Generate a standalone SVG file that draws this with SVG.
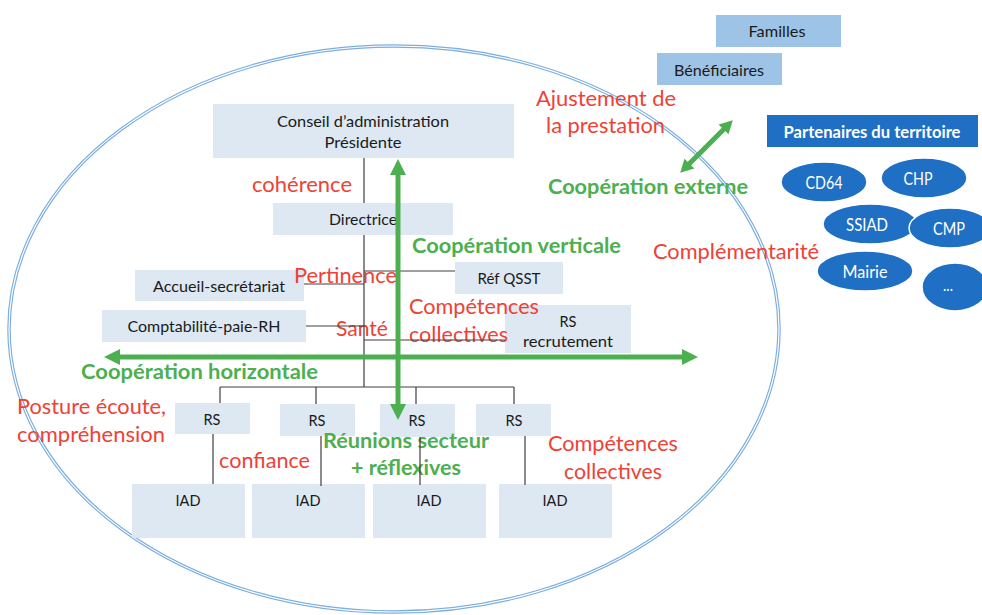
<svg xmlns="http://www.w3.org/2000/svg" width="982" height="615" viewBox="0 0 982 615">
<defs>
<style>
.bx{fill:#dde8f3}
.t{font-family:Lato,"Liberation Sans",sans-serif;font-size:16px;fill:#1a1a1a;text-anchor:middle}
.r{font-family:Lato,"Liberation Sans",sans-serif;font-size:22px;fill:#ef4136}
.g{font-family:Lato,"Liberation Sans",sans-serif;font-size:21px;font-weight:bold;fill:#4caf50}
.w{font-family:Lato,"Liberation Sans",sans-serif;font-size:17px;fill:#ffffff;text-anchor:middle}
.pe{fill:#1f6fc4;stroke:#ffffff;stroke-width:1.5}
.ln{stroke:#404040;stroke-width:1.2;fill:none}
.ga{stroke:#4caf50;stroke-width:5;fill:none}
</style>
<marker id="ah" markerUnits="userSpaceOnUse" markerWidth="20" markerHeight="20" refX="2" refY="8" orient="auto-start-reverse" overflow="visible">
<path d="M0,0 L16,8 L0,16 z" fill="#4caf50"/>
</marker>
<marker id="ah2" markerUnits="userSpaceOnUse" markerWidth="16" markerHeight="16" refX="2" refY="7" orient="auto-start-reverse" overflow="visible">
<path d="M0,0 L13,7 L0,14 z" fill="#4caf50"/>
</marker>
</defs>
<rect width="982" height="615" fill="#ffffff"/>

<g id="enclosure">
<ellipse cx="394" cy="329" rx="385" ry="283" fill="none" stroke="#7aaee0" stroke-width="3.5"/>
<ellipse cx="394" cy="329" rx="385" ry="283" fill="none" stroke="#ffffff" stroke-width="1.2"/>
</g>

<g id="conseil"><rect class="bx" x="213" y="104" width="301" height="54"/>
<text class="t" x="363" y="127" textLength="172" lengthAdjust="spacingAndGlyphs">Conseil d’administration</text>
<text class="t" x="363" y="148" textLength="77" lengthAdjust="spacingAndGlyphs">Présidente</text></g>
<g id="directrice"><rect class="bx" x="273" y="203" width="180" height="32"/>
<text class="t" x="363" y="225" textLength="68" lengthAdjust="spacingAndGlyphs">Directrice</text></g>
<g id="accueil"><rect class="bx" x="135" y="270" width="169" height="31"/>
<text class="t" x="219" y="292" textLength="132" lengthAdjust="spacingAndGlyphs">Accueil-secrétariat</text></g>
<g id="compta"><rect class="bx" x="102" y="310" width="204" height="32"/>
<text class="t" x="204" y="332" textLength="153" lengthAdjust="spacingAndGlyphs">Comptabilité-paie-RH</text></g>
<g id="refqsst"><rect class="bx" x="455" y="262" width="108" height="32"/>
<text class="t" x="509" y="284" textLength="63" lengthAdjust="spacingAndGlyphs">Réf QSST</text></g>
<g id="rsrecrut"><rect class="bx" x="505" y="305" width="126" height="48"/>
<text class="t" x="568" y="327" textLength="17" lengthAdjust="spacingAndGlyphs">RS</text>
<text class="t" x="568" y="347" textLength="90" lengthAdjust="spacingAndGlyphs">recrutement</text></g>

<g id="rs1"><rect class="bx" x="175" y="403" width="75" height="31"/><text class="t" x="212" y="425" textLength="17" lengthAdjust="spacingAndGlyphs">RS</text></g>
<g id="rs2"><rect class="bx" x="280" y="404" width="75" height="32"/><text class="t" x="317" y="426" textLength="17" lengthAdjust="spacingAndGlyphs">RS</text></g>
<g id="rs3"><rect class="bx" x="380" y="404" width="75" height="33"/><text class="t" x="417" y="426" textLength="17" lengthAdjust="spacingAndGlyphs">RS</text></g>
<g id="rs4"><rect class="bx" x="476" y="404" width="75" height="32"/><text class="t" x="514" y="426" textLength="17" lengthAdjust="spacingAndGlyphs">RS</text></g>

<g id="iad1"><rect class="bx" x="132" y="484" width="113" height="54"/><text class="t" x="188" y="506" textLength="25" lengthAdjust="spacingAndGlyphs">IAD</text></g>
<g id="iad2"><rect class="bx" x="252" y="484" width="113" height="54"/><text class="t" x="308" y="506" textLength="25" lengthAdjust="spacingAndGlyphs">IAD</text></g>
<g id="iad3"><rect class="bx" x="373" y="484" width="113" height="54"/><text class="t" x="429" y="506" textLength="25" lengthAdjust="spacingAndGlyphs">IAD</text></g>
<g id="iad4"><rect class="bx" x="499" y="484" width="113" height="54"/><text class="t" x="555" y="506" textLength="25" lengthAdjust="spacingAndGlyphs">IAD</text></g>

<g id="familles"><rect x="716" y="15" width="125" height="32" fill="#9dc3e6"/>
<text class="t" x="777" y="37" textLength="57" lengthAdjust="spacingAndGlyphs">Familles</text></g>
<g id="beneficiaires"><rect x="657" y="53" width="125" height="32" fill="#9dc3e6"/>
<text class="t" x="719" y="76" textLength="90" lengthAdjust="spacingAndGlyphs">Bénéficiaires</text></g>
<g id="partenaires"><rect x="767" y="115" width="211" height="32" fill="#1f6fc4"/>
<text class="w" x="872" y="138" font-weight="bold" font-size="16" textLength="177" lengthAdjust="spacingAndGlyphs">Partenaires du territoire</text></g>

<g id="cd64"><ellipse class="pe" cx="824" cy="182" rx="43" ry="20"/><text class="w" x="824" y="189" textLength="37" lengthAdjust="spacingAndGlyphs">CD64</text></g>
<g id="chp"><ellipse class="pe" cx="924" cy="178" rx="43" ry="20"/><text class="w" x="918" y="185" textLength="29" lengthAdjust="spacingAndGlyphs">CHP</text></g>
<g id="ssiad"><ellipse class="pe" cx="870" cy="224" rx="47" ry="20"/><text class="w" x="867" y="231" textLength="42" lengthAdjust="spacingAndGlyphs">SSIAD</text></g>
<g id="cmp"><ellipse class="pe" cx="950" cy="228" rx="41" ry="20"/><text class="w" x="949" y="235" textLength="32" lengthAdjust="spacingAndGlyphs">CMP</text></g>
<g id="mairie"><ellipse class="pe" cx="865" cy="271" rx="48" ry="20"/><text class="w" x="865" y="278" textLength="45" lengthAdjust="spacingAndGlyphs">Mairie</text></g>
<g id="autres"><ellipse class="pe" cx="955" cy="287" rx="33" ry="24"/><text class="w" x="948" y="291" font-size="13" textLength="10" lengthAdjust="spacingAndGlyphs">...</text></g>

<g id="labels">
<text class="r" x="252" y="192" textLength="100" lengthAdjust="spacingAndGlyphs">cohérence</text>
<text class="g" x="412" y="253" textLength="209" lengthAdjust="spacingAndGlyphs">Coopération verticale</text>
<text class="r" x="294" y="283" textLength="103" lengthAdjust="spacingAndGlyphs">Pertinence</text>
<text class="r" x="409" y="314" textLength="130" lengthAdjust="spacingAndGlyphs">Compétences</text>
<text class="r" x="409" y="342" textLength="99" lengthAdjust="spacingAndGlyphs">collectives</text>
<text class="r" x="336" y="336" textLength="52" lengthAdjust="spacingAndGlyphs">Santé</text>
<text class="g" x="81" y="379" textLength="237" lengthAdjust="spacingAndGlyphs">Coopération horizontale</text>
<text class="r" x="17" y="414" textLength="149" lengthAdjust="spacingAndGlyphs">Posture écoute,</text>
<text class="r" x="17" y="442" textLength="148" lengthAdjust="spacingAndGlyphs">compréhension</text>
<text class="r" x="219" y="468" textLength="91" lengthAdjust="spacingAndGlyphs">confiance</text>
<text class="g" x="323" y="448" textLength="166" lengthAdjust="spacingAndGlyphs">Réunions secteur</text>
<text class="g" x="351" y="475" textLength="110" lengthAdjust="spacingAndGlyphs">+ réflexives</text>
<text class="r" x="548" y="451" textLength="130" lengthAdjust="spacingAndGlyphs">Compétences</text>
<text class="r" x="564" y="479" textLength="98" lengthAdjust="spacingAndGlyphs">collectives</text>
<text class="r" x="536" y="106" textLength="140" lengthAdjust="spacingAndGlyphs">Ajustement de</text>
<text class="r" x="546" y="133" textLength="119" lengthAdjust="spacingAndGlyphs">la prestation</text>
<text class="g" x="548" y="194" textLength="200" lengthAdjust="spacingAndGlyphs">Coopération externe</text>
<text class="r" x="653" y="259" textLength="166" lengthAdjust="spacingAndGlyphs">Complémentarité</text>
</g>

<g id="connectors">
<path class="ln" d="M364,158 V203 M364,235 V387 M220,387 H514 M220,387 V403 M316,387 V404 M416,387 V404 M514,387 V404"/>
<path class="ln" d="M304,284 H364 M364,271 H455 M306,326 H364 M364,340 H505"/>
<path class="ln" d="M213,434 V484 M321,436 V486 M420,437 V485 M525,436 V485"/>
<line class="ga" x1="398" y1="173" x2="398" y2="406" marker-start="url(#ah)" marker-end="url(#ah)"/>
<line class="ga" x1="118" y1="357" x2="684" y2="357" marker-start="url(#ah)" marker-end="url(#ah)"/>
<line class="ga" stroke-width="4" x1="688" y1="165" x2="725" y2="128" marker-start="url(#ah2)" marker-end="url(#ah2)"/>
</g>
</svg>
